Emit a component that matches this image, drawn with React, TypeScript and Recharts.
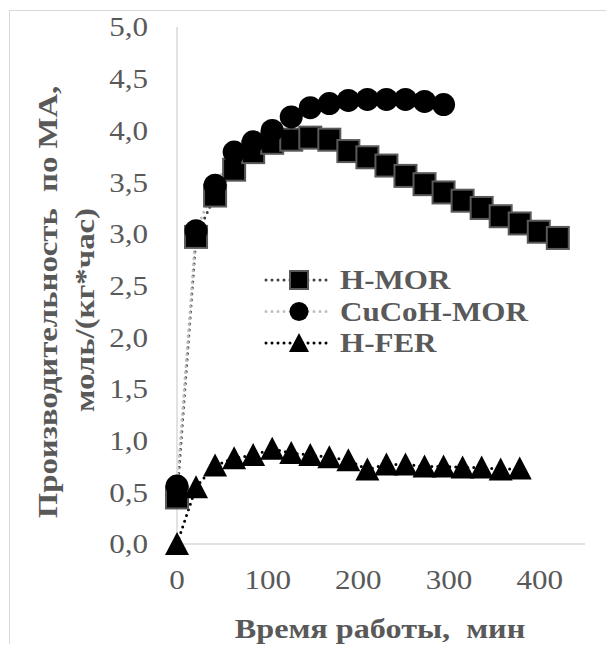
import React from 'react';
import { LineChart, Line, XAxis, YAxis } from 'recharts';

const times = [0, 21, 42, 63, 84, 105, 126, 147, 168, 189, 210, 231, 252, 273, 294, 315, 336, 357, 378, 399, 420];
const hMor = [0.45, 2.97, 3.37, 3.62, 3.79, 3.88, 3.91, 3.93, 3.91, 3.8, 3.74, 3.66, 3.56, 3.48, 3.4, 3.32, 3.25, 3.17, 3.1, 3.02, 2.96];
const cuCoHMor = [0.56, 3.03, 3.47, 3.79, 3.89, 4.0, 4.13, 4.22, 4.26, 4.29, 4.3, 4.3, 4.3, 4.28, 4.25];
const hFer = [0.0, 0.55, 0.76, 0.83, 0.86, 0.92, 0.88, 0.86, 0.84, 0.81, 0.72, 0.77, 0.77, 0.75, 0.75, 0.74, 0.74, 0.72, 0.73];
const yTicks = [0, 0.5, 1, 1.5, 2, 2.5, 3, 3.5, 4, 4.5, 5];
const xTicks = [0, 100, 200, 300, 400];
const seriesNames = ['H-MOR', 'CuCoH-MOR', 'H-FER'];
const xTitle = 'Время работы,  мин';
const yTitle1 = 'Производительность  по МА,';
const yTitle2 = 'моль/(кг*час)';

const data = times.map((t, i) => ({ t, hMor: hMor[i], cuCoHMor: cuCoHMor[i], hFer: hFer[i] }));

const FONT = '"Liberation Serif", "Times New Roman", serif';
const GRAY = '#595959';
const STRETCH = 1.15;

const SquareDot = (p: any) => {
  const { cx, cy, index } = p;
  if (cx == null || cy == null) return <g key={`s${index}`} />;
  const s = 22;
  return <rect key={`s${index}`} x={cx - s / 2} y={cy - s / 2} width={s} height={s} fill="#000" stroke={GRAY} strokeWidth={2} />;
};
const CircleDot = (p: any) => {
  const { cx, cy, index } = p;
  if (cx == null || cy == null) return <g key={`c${index}`} />;
  return <circle key={`c${index}`} cx={cx} cy={cy} r={11.5} fill="#000" />;
};
const TriangleDot = (p: any) => {
  const { cx, cy, index } = p;
  if (cx == null || cy == null) return <g key={`t${index}`} />;
  return (
    <polygon
      key={`t${index}`}
      points={`${cx},${cy - 12} ${cx + 12},${cy + 11} ${cx - 12},${cy + 11}`}
      fill="#000"
    />
  );
};

const YTick = (p: any) => {
  const { x, y, payload } = p;
  return (
    <g transform={`translate(${x},${y})`}>
      <text transform={`scale(${STRETCH},1)`} textAnchor="end" dy="0.35em" fontFamily={FONT} fontSize={27} fill={GRAY}>
        {Number(payload.value).toFixed(1).replace('.', ',')}
      </text>
    </g>
  );
};
const XTick = (p: any) => {
  const { x, y, payload } = p;
  return (
    <g transform={`translate(${x},${y})`}>
      <text transform={`scale(${STRETCH},1)`} textAnchor="middle" dy="0.71em" fontFamily={FONT} fontSize={27} fill={GRAY}>
        {payload.value}
      </text>
    </g>
  );
};

const lineStyles = [
  { color: '#404040', shape: 'square' },
  { color: '#bfbfbf', shape: 'circle' },
  { color: '#000000', shape: 'triangle' },
];

const LegendBox = () => {
  const rows = [22, 53.5, 85];
  return (
    <svg width={330} height={110} style={{ overflow: 'visible', display: 'block' }}>
      {seriesNames.map((name, i) => {
        const y = rows[i];
        const st = lineStyles[i];
        return (
          <g key={name}>
            <line x1={8} x2={72} y1={y} y2={y} stroke={st.color} strokeWidth={3} strokeDasharray="0 6" strokeLinecap="round" />
            {st.shape === 'square' && <rect x={32} y={y - 9} width={18} height={18} fill="#000" stroke={GRAY} strokeWidth={2} />}
            {st.shape === 'circle' && <circle cx={41} cy={y} r={9.5} fill="#000" />}
            {st.shape === 'triangle' && <polygon points={`41,${y - 10} 51,${y + 9} 31,${y + 9}`} fill="#000" />}
            <g transform={`translate(82,${y})`}>
              <text transform={`scale(${STRETCH},1)`} dy="0.35em" fontFamily={FONT} fontWeight="bold" fontSize={27} fill={GRAY}>
                {name}
              </text>
            </g>
          </g>
        );
      })}
    </svg>
  );
};

export default function App() {
  return (
    <div style={{ width: 598, height: 636, overflow: 'hidden', position: 'relative' }}>
      <div style={{ position: 'absolute', left: 1, top: 2, width: 640, height: 700, border: '1px solid #d9d9d9', boxSizing: 'border-box' }} />
      <div style={{ position: 'absolute', left: 0, top: 0 }}>
        <LineChart width={598} height={636} data={data} margin={{ top: 19, right: 21, bottom: 40, left: 89 }}>
          <XAxis
            dataKey="t"
            type="number"
            domain={[0, 450]}
            ticks={xTicks}
            tickLine={false}
            tickSize={0}
            tickMargin={26}
            axisLine={{ stroke: '#d9d9d9', strokeWidth: 1.5 }}
            tick={<XTick />}
            height={60}
            label={{
              content: () => (
                <g transform="translate(372,620)">
                  <text transform={`scale(${STRETCH},1)`} textAnchor="middle" dy="0.35em" fontFamily={FONT} fontWeight="bold" fontSize={28} fill={GRAY} style={{ whiteSpace: 'pre' }}>
                    {xTitle}
                  </text>
                </g>
              ),
            }}
          />
          <YAxis
            type="number"
            domain={[0, 5]}
            ticks={yTicks}
            tickLine={false}
            tickSize={0}
            tickMargin={29}
            axisLine={{ stroke: '#d9d9d9', strokeWidth: 1.5 }}
            tick={<YTick />}
            width={80}
            label={{
              content: () => (
                <g>
                  <g transform="translate(39,294) rotate(-90) scale(1.17,1)">
                    <text textAnchor="middle" dy="0.35em" fontFamily={FONT} fontWeight="bold" fontSize={28} fill={GRAY} style={{ whiteSpace: 'pre' }}>
                      {yTitle1}
                    </text>
                  </g>
                  <g transform="translate(76,302) rotate(-90) scale(1.17,1)">
                    <text textAnchor="middle" dy="0.35em" fontFamily={FONT} fontWeight="bold" fontSize={28} fill={GRAY}>
                      {yTitle2}
                    </text>
                  </g>
                </g>
              ),
            }}
          />
          <Line dataKey="hMor" name={seriesNames[0]} type="linear" stroke={lineStyles[0].color} strokeWidth={3} strokeDasharray="0 6" strokeLinecap="round" dot={SquareDot} activeDot={false} isAnimationActive={false} />
          <Line dataKey="cuCoHMor" name={seriesNames[1]} type="linear" stroke={lineStyles[1].color} strokeWidth={3} strokeDasharray="0 6" strokeLinecap="round" dot={CircleDot} activeDot={false} isAnimationActive={false} />
          <Line dataKey="hFer" name={seriesNames[2]} type="linear" stroke={lineStyles[2].color} strokeWidth={3} strokeDasharray="0 6" strokeLinecap="round" dot={TriangleDot} activeDot={false} isAnimationActive={false} />
        </LineChart>
      </div>
      <div style={{ position: 'absolute', left: 250, top: 250 }}>
        <LegendBox />
      </div>
    </div>
  );
}
